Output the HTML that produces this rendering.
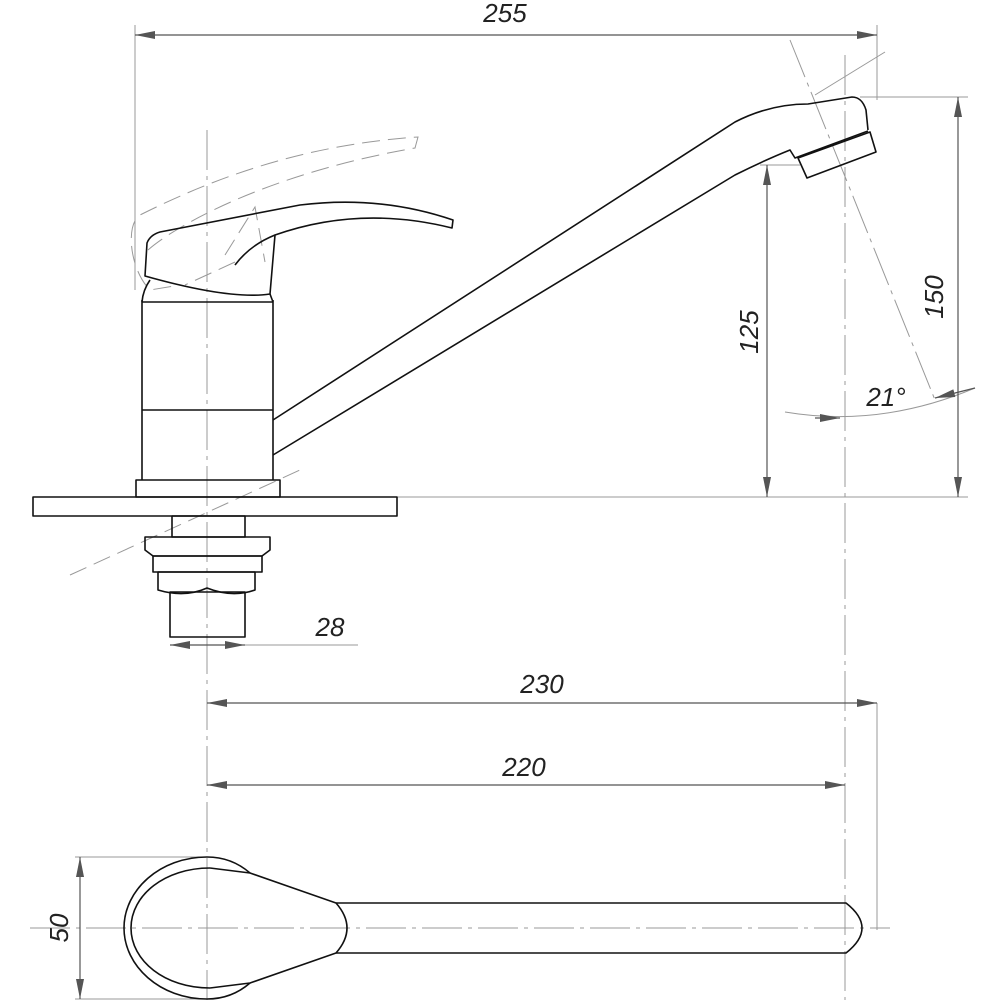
<!DOCTYPE html>
<html><head><meta charset="utf-8"><style>html,body{margin:0;padding:0;background:#fff}svg{display:block}</style></head>
<body>
<svg width="1000" height="1000" viewBox="0 0 1000 1000" xmlns="http://www.w3.org/2000/svg">
<defs>
<marker id="a" viewBox="0 0 20 8" refX="20" refY="4" markerWidth="20" markerHeight="8" markerUnits="userSpaceOnUse" orient="auto-start-reverse"><path d="M0,0 L20,4 L0,8 z" fill="#555"/></marker>
</defs>
<g stroke="#999" stroke-width="1" fill="none">
<line x1="135" y1="25" x2="135" y2="290"/>
<line x1="877" y1="25" x2="877" y2="100"/>
<line x1="860" y1="97" x2="968" y2="97"/>
<line x1="397" y1="497" x2="968" y2="497"/>
<line x1="760" y1="165" x2="800" y2="165"/>
<line x1="245" y1="645" x2="358" y2="645"/>
<line x1="877" y1="703" x2="877" y2="930"/>
<line x1="75" y1="857" x2="207" y2="857"/>
<line x1="75" y1="999" x2="207" y2="999"/>
<line x1="207" y1="130" x2="207" y2="1000" stroke-dasharray="40,6,4,6"/>
<line x1="845" y1="55" x2="845" y2="1000" stroke-dasharray="40,6,4,6"/>
<line x1="30" y1="928" x2="890" y2="928" stroke-dasharray="40,6,4,6"/>
<line x1="790" y1="40" x2="935" y2="400" stroke-dasharray="40,6,4,6"/>
<line x1="815" y1="95" x2="885" y2="52"/>
<path d="M70,575 L300,470" stroke-dasharray="18,8"/>
<path d="M148,250 C170,230 260,175 415,148 L418,137 C300,145 210,180 140,215 C125,225 130,270 150,290 L180,285" stroke-dasharray="18,8"/>
<path d="M225,255 L255,207 L265,262" stroke-dasharray="18,8"/>
<path d="M235,262 L185,285" stroke-dasharray="18,8"/>
<path d="M785,412 Q880,428 975,388"/>
</g>
<g stroke="#555" stroke-width="1.2" fill="none">
<line x1="135" y1="35" x2="877" y2="35" marker-start="url(#a)" marker-end="url(#a)"/>
<line x1="767" y1="165" x2="767" y2="497" marker-start="url(#a)" marker-end="url(#a)"/>
<line x1="958" y1="97" x2="958" y2="497" marker-start="url(#a)" marker-end="url(#a)"/>
<line x1="170" y1="645" x2="245" y2="645" marker-start="url(#a)" marker-end="url(#a)"/>
<line x1="207" y1="703" x2="877" y2="703" marker-start="url(#a)" marker-end="url(#a)"/>
<line x1="207" y1="785" x2="845" y2="785" marker-start="url(#a)" marker-end="url(#a)"/>
<line x1="80" y1="857" x2="80" y2="999" marker-start="url(#a)" marker-end="url(#a)"/>
<line x1="815" y1="418" x2="840" y2="418" marker-end="url(#a)"/>
<line x1="975" y1="388" x2="935" y2="398" marker-end="url(#a)"/>
</g>
<g stroke="#111" stroke-width="1.6" fill="none" stroke-linejoin="round">
<rect x="33" y="497" width="364" height="19"/>
<rect x="136" y="480" width="144" height="17"/>
<line x1="142" y1="480" x2="142" y2="300"/>
<line x1="273" y1="480" x2="273" y2="300"/>
<line x1="142" y1="410" x2="273" y2="410"/>
<line x1="142" y1="302" x2="273" y2="302"/>
<path d="M142,302 Q143,290 150,280 M273,302 L270,294"/>
<path d="M145,276 L147,243 Q150,235 160,232 L300,205 Q380,195 453,220 L452,228 Q360,205 275,235 L270,294 Q230,300 145,276 Z"/>
<path d="M235,265 Q250,245 275,235"/>
<path d="M273,420 L735,122 Q770,104 808,104 L852,97 Q862,97 866,110 L868,130"/>
<path d="M273,455 L735,175 Q765,160 790,150 L795,158 L868,131"/>
<path d="M798,158 L870,132 L876,152 L807,178 Z"/>
<rect x="172" y="516" width="73" height="21"/>
<path d="M145,537 L270,537 L270,550 L262,556 L153,556 L145,550 Z"/>
<rect x="153" y="556" width="109" height="16"/>
<path d="M158,572 L255,572 L255,590 Q232,598 207,588 Q185,598 158,590 Z"/>
<rect x="170" y="592" width="75" height="45"/>
<!-- top view -->
<path d="M250,873 C235,860 220,857 207,857 C160,857 124,890 124,928 C124,966 160,999 207,999 C220,999 235,996 250,983"/>
<path d="M210,868 C165,868 131,895 131,928 C131,961 165,988 210,988"/>
<path d="M210,868 L250,873 L336,903 Q358,928 336,953 L250,983 L210,988"/>
<path d="M336,903 L846,903 Q878,928 846,953 L336,953"/>
</g>
<g font-family="Liberation Sans, sans-serif" font-style="italic" font-size="26" fill="#222">
<text x="505" y="22" text-anchor="middle">255</text>
<text x="330" y="636" text-anchor="middle">28</text>
<text x="542" y="693" text-anchor="middle">230</text>
<text x="524" y="776" text-anchor="middle">220</text>
<text x="886" y="406" text-anchor="middle">21°</text>
<text transform="translate(758,332) rotate(-90)" text-anchor="middle">125</text>
<text transform="translate(943,297) rotate(-90)" text-anchor="middle">150</text>
<text transform="translate(68,928) rotate(-90)" text-anchor="middle">50</text>
</g>
</svg>
</body></html>
